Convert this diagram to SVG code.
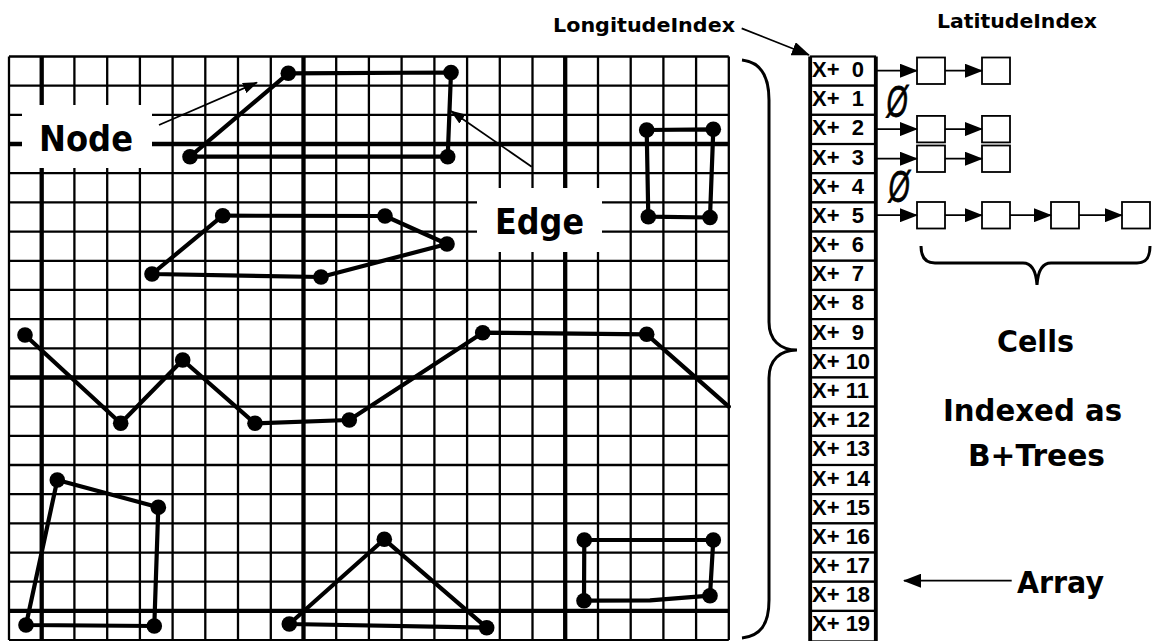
<svg xmlns="http://www.w3.org/2000/svg" width="1152" height="641" viewBox="0 0 1152 641">
<style>
.thin{stroke:#000;stroke-width:2.3;fill:none}
.thick{stroke:#000;stroke-width:4.3;fill:none}
.edge{stroke:#000;stroke-width:4.2;fill:none;stroke-linejoin:round;stroke-linecap:round}
.dot{fill:#000}
.lbl{font-family:"DejaVu Sans","Verdana",sans-serif;font-weight:bold;fill:#000}
.idx{font-family:"Liberation Sans",Arial,sans-serif;font-weight:bold;font-size:22px;fill:#000;white-space:pre}
.cell{fill:#fff;stroke:#000;stroke-width:1.8}
.row{fill:#fff;stroke:#000;stroke-width:2.2}
.arr{stroke:#000;stroke-width:1.8;fill:none}
.brace{stroke:#000;stroke-width:3;fill:none}
.nul{font-family:"Liberation Sans",Arial,sans-serif;font-style:italic;font-size:44px;fill:#000;stroke:#000;stroke-width:0.8}
</style>
<defs>
<marker id="ah" viewBox="0 0 18 14" refX="17" refY="7" markerWidth="18" markerHeight="14" markerUnits="userSpaceOnUse" orient="auto"><path d="M0,0 L18,7 L0,14 z" fill="#000"/></marker>
<marker id="ahs" viewBox="0 0 15 11" refX="14" refY="5.5" markerWidth="15" markerHeight="11" markerUnits="userSpaceOnUse" orient="auto"><path d="M0,0 L15,5.5 L0,11 z" fill="#000"/></marker>
</defs>
<rect width="1152" height="641" fill="#fff"/>
<g id="grid">
<path class="thin" d="M9,56.5V640.1 M74.4,56.5V640.1 M107.2,56.5V640.1 M139.9,56.5V640.1 M172.6,56.5V640.1 M205.3,56.5V640.1 M238,56.5V640.1 M270.8,56.5V640.1 M336.2,56.5V640.1 M368.9,56.5V640.1 M401.6,56.5V640.1 M434.4,56.5V640.1 M467.1,56.5V640.1 M499.8,56.5V640.1 M532.5,56.5V640.1 M598,56.5V640.1 M630.7,56.5V640.1 M663.4,56.5V640.1 M696.1,56.5V640.1 M728.8,56.5V640.1"/>
<path class="thick" d="M41.7,56.5V640.1 M303.5,56.5V640.1 M565.2,56.5V640.1"/>
<path class="thin" d="M9,56.5H728.8 M9,85.7H728.8 M9,114.9H728.8 M9,173.2H728.8 M9,202.4H728.8 M9,231.6H728.8 M9,260.8H728.8 M9,289.9H728.8 M9,319.1H728.8 M9,348.3H728.8 M9,406.7H728.8 M9,435.8H728.8 M9,465H728.8 M9,494.2H728.8 M9,523.4H728.8 M9,552.6H728.8 M9,581.7H728.8 M9,640.1H728.8"/>
<path class="thick" d="M9,144H728.8 M9,377.5H728.8 M9,610.9H728.8"/>
</g>
<g id="label-node">
<rect x="22" y="105" width="130" height="63" fill="#fff"/>
<text class="lbl" x="39" y="151" font-size="35" textLength="94" lengthAdjust="spacingAndGlyphs">Node</text>
</g>
<g id="label-edge">
<rect x="477" y="188" width="125" height="64" fill="#fff"/>
<text class="lbl" x="495" y="234" font-size="35" textLength="89" lengthAdjust="spacingAndGlyphs">Edge</text>
</g>
<g id="shape-top-rect">
<polygon class="edge" points="288.3,73.3 451,72.5 447.7,156.7 190,156.7"/>
<circle class="dot" cx="288.3" cy="73.3" r="7.8"/><circle class="dot" cx="451" cy="72.5" r="7.8"/><circle class="dot" cx="447.7" cy="156.7" r="7.8"/><circle class="dot" cx="190" cy="156.7" r="7.8"/>
</g>
<g id="shape-small-rect">
<polygon class="edge" points="646.7,130 713.3,129.3 710,217.5 648.3,216.7"/>
<circle class="dot" cx="646.7" cy="130" r="7.8"/><circle class="dot" cx="713.3" cy="129.3" r="7.8"/><circle class="dot" cx="710" cy="217.5" r="7.8"/><circle class="dot" cx="648.3" cy="216.7" r="7.8"/>
</g>
<g id="shape-pentagon">
<polygon class="edge" points="222.7,215.7 385,216 447,244 321,277 152,274"/>
<circle class="dot" cx="222.7" cy="215.7" r="7.8"/><circle class="dot" cx="385" cy="216" r="7.8"/><circle class="dot" cx="447" cy="244" r="7.8"/><circle class="dot" cx="321" cy="277" r="7.8"/><circle class="dot" cx="152" cy="274" r="7.8"/>
</g>
<g id="shape-zigzag">
<polyline class="edge" points="25,335 120.7,423.3 182.7,360 255,423.3 349.3,420 482.7,332.7 646.7,334.3 728.8,406.7"/>
<circle class="dot" cx="25" cy="335" r="7.8"/><circle class="dot" cx="120.7" cy="423.3" r="7.8"/><circle class="dot" cx="182.7" cy="360" r="7.8"/><circle class="dot" cx="255" cy="423.3" r="7.8"/><circle class="dot" cx="349.3" cy="420" r="7.8"/><circle class="dot" cx="482.7" cy="332.7" r="7.8"/><circle class="dot" cx="646.7" cy="334.3" r="7.8"/>
</g>
<g id="shape-bottom-left">
<polygon class="edge" points="57.3,480 158.3,507.3 154.3,626 26,625"/>
<circle class="dot" cx="57.3" cy="480" r="7.8"/><circle class="dot" cx="158.3" cy="507.3" r="7.8"/><circle class="dot" cx="154.3" cy="626" r="7.8"/><circle class="dot" cx="26" cy="625" r="7.8"/>
</g>
<g id="shape-triangle">
<polygon class="edge" points="384.3,539.3 486.7,627.7 289.3,624"/>
<circle class="dot" cx="384.3" cy="539.3" r="7.8"/><circle class="dot" cx="486.7" cy="627.7" r="7.8"/><circle class="dot" cx="289.3" cy="624" r="7.8"/>
</g>
<g id="shape-bottom-right">
<polygon class="edge" points="584.3,540 713.3,540 710,595.7 650,600.3 584,600.7"/>
<circle class="dot" cx="584.3" cy="540" r="7.8"/><circle class="dot" cx="713.3" cy="540" r="7.8"/><circle class="dot" cx="710" cy="595.7" r="7.8"/><circle class="dot" cx="584" cy="600.7" r="7.8"/>
</g>
<g id="array">
<rect class="row" x="811" y="56.5" width="64" height="29.18"/>
<rect class="row" x="811" y="85.68" width="64" height="29.18"/>
<rect class="row" x="811" y="114.86" width="64" height="29.18"/>
<rect class="row" x="811" y="144.04" width="64" height="29.18"/>
<rect class="row" x="811" y="173.22" width="64" height="29.18"/>
<rect class="row" x="811" y="202.4" width="64" height="29.18"/>
<rect class="row" x="811" y="231.58" width="64" height="29.18"/>
<rect class="row" x="811" y="260.76" width="64" height="29.18"/>
<rect class="row" x="811" y="289.94" width="64" height="29.18"/>
<rect class="row" x="811" y="319.12" width="64" height="29.18"/>
<rect class="row" x="811" y="348.3" width="64" height="29.18"/>
<rect class="row" x="811" y="377.48" width="64" height="29.18"/>
<rect class="row" x="811" y="406.66" width="64" height="29.18"/>
<rect class="row" x="811" y="435.84" width="64" height="29.18"/>
<rect class="row" x="811" y="465.02" width="64" height="29.18"/>
<rect class="row" x="811" y="494.2" width="64" height="29.18"/>
<rect class="row" x="811" y="523.38" width="64" height="29.18"/>
<rect class="row" x="811" y="552.56" width="64" height="29.18"/>
<rect class="row" x="811" y="581.74" width="64" height="29.18"/>
<rect class="row" x="811" y="610.92" width="64" height="30.5"/>
<path d="M810,56.5V641 M876,56.5V641" stroke="#000" stroke-width="3.5"/>
<text class="idx" x="812" y="77" xml:space="preserve">X+  0</text>
<text class="idx" x="812" y="106.2" xml:space="preserve">X+  1</text>
<text class="idx" x="812" y="135.4" xml:space="preserve">X+  2</text>
<text class="idx" x="812" y="164.5" xml:space="preserve">X+  3</text>
<text class="idx" x="812" y="193.7" xml:space="preserve">X+  4</text>
<text class="idx" x="812" y="222.9" xml:space="preserve">X+  5</text>
<text class="idx" x="812" y="252.1" xml:space="preserve">X+  6</text>
<text class="idx" x="812" y="281.3" xml:space="preserve">X+  7</text>
<text class="idx" x="812" y="310.4" xml:space="preserve">X+  8</text>
<text class="idx" x="812" y="339.6" xml:space="preserve">X+  9</text>
<text class="idx" x="812" y="368.8">X+ 10</text>
<text class="idx" x="812" y="398">X+ 11</text>
<text class="idx" x="812" y="427.2">X+ 12</text>
<text class="idx" x="812" y="456.3">X+ 13</text>
<text class="idx" x="812" y="485.5">X+ 14</text>
<text class="idx" x="812" y="514.7">X+ 15</text>
<text class="idx" x="812" y="543.9">X+ 16</text>
<text class="idx" x="812" y="573.1">X+ 17</text>
<text class="idx" x="812" y="602.2">X+ 18</text>
<text class="idx" x="812" y="631.4">X+ 19</text>
</g>
<g id="cells">
<rect class="cell" x="917" y="57.5" width="28" height="26.5"/>
<rect class="cell" x="982" y="57.5" width="28" height="26.5"/>
<rect class="cell" x="917" y="115.9" width="28" height="26.5"/>
<rect class="cell" x="982" y="115.9" width="28" height="26.5"/>
<rect class="cell" x="917" y="145.5" width="28" height="26.5"/>
<rect class="cell" x="982" y="145.5" width="28" height="26.5"/>
<rect class="cell" x="917" y="202" width="28" height="26.5"/>
<rect class="cell" x="982" y="202" width="28" height="26.5"/>
<rect class="cell" x="1051" y="202" width="28" height="26.5"/>
<rect class="cell" x="1122" y="202" width="28" height="26.5"/>
<text class="nul" transform="translate(897,117) scale(0.62,1)" text-anchor="middle">Ø</text>
<text class="nul" transform="translate(899,202) scale(0.62,1)" text-anchor="middle">Ø</text>
</g>
<g id="texts">
<text class="lbl" x="553" y="31.5" font-size="19" textLength="182" lengthAdjust="spacingAndGlyphs">LongitudeIndex</text>
<text class="lbl" x="937" y="28" font-size="19.5" textLength="160" lengthAdjust="spacingAndGlyphs">LatitudeIndex</text>
<text class="lbl" x="997" y="351.5" font-size="30" textLength="77" lengthAdjust="spacingAndGlyphs">Cells</text>
<text class="lbl" x="943" y="420.5" font-size="31" textLength="179" lengthAdjust="spacingAndGlyphs">Indexed as</text>
<text class="lbl" x="968" y="466" font-size="31" textLength="137" lengthAdjust="spacingAndGlyphs">B+Trees</text>
<text class="lbl" x="1017" y="593" font-size="31" textLength="87" lengthAdjust="spacingAndGlyphs">Array</text>
</g>
<g id="connectors">
<line class="arr" x1="159" y1="125" x2="257" y2="82.5" marker-end="url(#ahs)"/>
<line class="arr" x1="531.7" y1="166.7" x2="451" y2="111" marker-end="url(#ahs)"/>
<line class="arr" x1="741.7" y1="28.3" x2="809" y2="55" marker-end="url(#ah)"/>
<line class="arr" x1="1011.7" y1="580.7" x2="904" y2="580.7" marker-end="url(#ah)"/>
<line class="arr" x1="876" y1="70.7" x2="917" y2="70.7" marker-end="url(#ah)"/>
<line class="arr" x1="945" y1="70.7" x2="982" y2="70.7" marker-end="url(#ah)"/>
<line class="arr" x1="876" y1="129.1" x2="917" y2="129.1" marker-end="url(#ah)"/>
<line class="arr" x1="945" y1="129.1" x2="982" y2="129.1" marker-end="url(#ah)"/>
<line class="arr" x1="876" y1="158.7" x2="917" y2="158.7" marker-end="url(#ah)"/>
<line class="arr" x1="945" y1="158.7" x2="982" y2="158.7" marker-end="url(#ah)"/>
<line class="arr" x1="876" y1="215.2" x2="917" y2="215.2" marker-end="url(#ah)"/>
<line class="arr" x1="945" y1="215.2" x2="982" y2="215.2" marker-end="url(#ah)"/>
<line class="arr" x1="1010" y1="215.2" x2="1051" y2="215.2" marker-end="url(#ah)"/>
<line class="arr" x1="1079" y1="215.2" x2="1122" y2="215.2" marker-end="url(#ah)"/>
<path class="brace" d="M742,60 C760,62 769,75 769,100 L769,322 C769,340 780,350 797,350 C780,350 769,360 769,378 L769,600 C769,625 760,636 742,638"/>
<path class="brace" d="M921,246 C921,258 926,263 935,263 L1023,263 C1031,263 1036,270 1037,285 C1038,270 1043,263 1051,263 L1137,263 C1146,263 1150,258 1150,246"/>
</g>
</svg>
